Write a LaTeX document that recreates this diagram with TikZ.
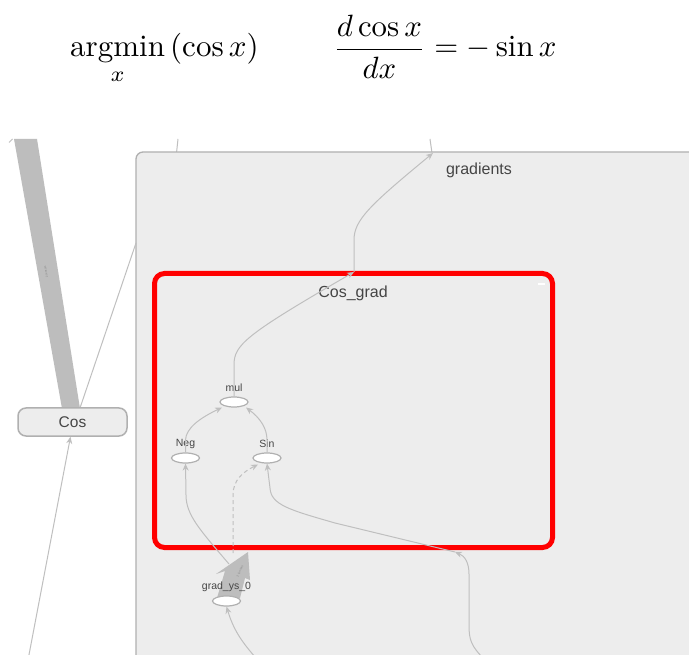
\documentclass[tikz,border=0pt]{standalone}
\usepackage{amsmath}
\usepackage{fontspec}
\newfontfamily\uifont{Liberation Sans}
\usetikzlibrary{arrows.meta,shapes.geometric}
\definecolor{edgegray}{HTML}{BFBFBF}
\definecolor{thickgray}{HTML}{BDBDBD}
\definecolor{boxfill}{HTML}{EDEDED}
\definecolor{boxline}{HTML}{B0B0B0}
\definecolor{txt}{HTML}{454545}
\begin{document}
\begin{tikzpicture}[x=1pt,y=-1pt,
  edge/.style={draw=edgegray,line width=1pt,-{Stealth[length=7pt,width=6pt]}},
  plainedge/.style={draw=edgegray,line width=1pt},
  op/.style={ellipse,draw=boxline,fill=white,line width=1.2pt,minimum width=28pt,minimum height=10pt,inner sep=0pt},
  oplabel/.style={font=\uifont\fontsize{10.5}{10.5}\selectfont,text=txt,inner sep=0pt},
  biglabel/.style={font=\uifont\fontsize{16}{16}\selectfont,text=txt,inner sep=0pt},
  tinylabel/.style={font=\uifont\fontsize{3}{3}\selectfont,text=black!45,inner sep=0pt}]
\useasboundingbox (0,0) rectangle (689,655);
\clip (0,0) rectangle (689,655);
\fill[white] (0,0) rectangle (689,655);

% equations
\node[anchor=base west,inner sep=0pt] (eqA) at (70,57)
  {\scalebox{3.1}{$\displaystyle\operatorname*{argmin}_x\left(\cos x\right)$}};
\node[anchor=base west,inner sep=0pt] (eqB) at (333,57)
  {\scalebox{3.08}{$\displaystyle\frac{d\cos x}{dx}=-\sin x$}};

% outer connectors outside the gradients box
\fill[thickgray] (14,139) -- (37,139) -- (80,408.5) -- (62,408.5) -- cycle;
\node[tinylabel,rotate=99.5] (tens1) at (46,272) {2 tensors};
\draw[plainedge] (9,142.5) -- (12.5,139);
\draw[plainedge] (178,139) -- (176.5,153);
\draw[plainedge] (432,153) -- (430,139);

% gradients box
\node[draw=boxline,fill=boxfill,line width=1.3pt,rounded corners=7pt,outer sep=0pt,
      minimum width=620pt,minimum height=560pt,anchor=north west,inner sep=0pt] (grads) at (136,152) {};
\node[biglabel] (gradslbl) at (479,170) {gradients};

% line from Cos into gradients box
\coordinate (gin) at (136,243);
\draw[plainedge] (80,408) -- (gin);

% Cos node
\node[draw=boxline,fill=boxfill,line width=1.5pt,rounded corners=8pt,
      minimum width=109pt,minimum height=28pt,inner sep=0pt,
      font=\uifont\fontsize{15.5}{15.5}\selectfont,text=txt] (cos) at (72.5,422) {Cos};
\coordinate (cosin) at (28,660);
\draw[edge] (cosin) -- ([xshift=-2pt]cos.south);

% Cos_grad box
\node[draw=red,fill=boxfill,line width=5pt,rounded corners=10pt,outer sep=0pt,
      minimum width=398pt,minimum height=274pt,anchor=north west,inner sep=0pt] (cosgrad) at (154.5,273.5) {};
\node[biglabel] (cosgradlbl) at (353,293) {Cos\_grad};
\draw[white,line width=1.5pt] (538,284) -- (545,284);

% op nodes
\node[op] (mul) at (234,402) {};
\node[oplabel] (mullbl) at (234,388) {mul};
\node[op] (neg) at (185.5,458) {};
\node[oplabel] (neglbl) at (185.5,443.5) {Neg};
\node[op] (sin) at (267,458) {};
\node[oplabel] (sinlbl) at (267,443.5) {Sin};

% connectors
\coordinate (cgtop) at (354,272);
\coordinate (gtop) at (433,153);
\draw[edge] (mul.north) -- (234,365) .. controls (234,345) and (245,335) .. (cgtop);
\draw[edge] (cgtop) -- (354,240) .. controls (354,220) and (370,205) .. (gtop);
\draw[edge] (neg.north) -- (185.5,440) .. controls (186,428) and (200,418) .. (222,407.5);
\draw[edge] (sin.north) -- (267,440) .. controls (267,428) and (260,418) .. (246,407.5);

% into Neg from below
\coordinate (negsrc) at (229,564);
\draw[edge] (negsrc) .. controls (200,530) and (186,515) .. (186,495) -- (neg.south);

% dashed into Sin
\coordinate (dashsrc) at (233,553);
\draw[edge,dashed,dash pattern=on 4pt off 3pt] (dashsrc) -- (233,495) .. controls (233,480) and (243,472) .. (258,464.5);

% into Sin from the right
\coordinate (cgbot) at (455,552);
\draw[edge] (cgbot) -- (335,523) .. controls (290,510) and (271,505) .. (270,488) -- (sin.south);
\coordinate (extsrc) at (485,660);
\draw[edge] (extsrc) .. controls (471,646) and (469,640) .. (469,625) -- (469,574) .. controls (469,563) and (465,556) .. (cgbot);

% thick arrow from grad_ys_0
\fill[thickgray] (248,552) -- (216,574) -- (225,571) -- (217,598) -- (240,598) -- (245,578) -- (250,580) -- cycle;
\node[tinylabel,rotate=66] (tens2) at (240,571) {2 tensors};
\node[op] (gys) at (226.5,601) {};
\node[oplabel] (gyslbl) at (226.5,587) {grad\_ys\_0};
\coordinate (gyssrc) at (256,658);
\draw[edge] (gyssrc) .. controls (240,640) and (233,628) .. (gys.south);
\end{tikzpicture}
\end{document}
